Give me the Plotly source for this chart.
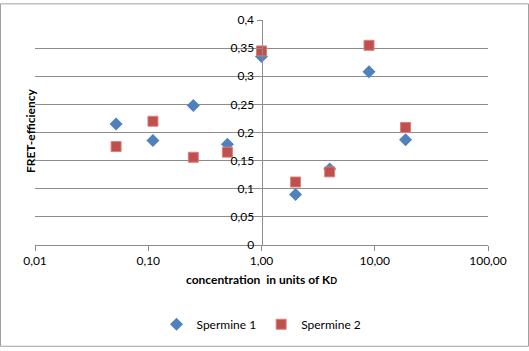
import plotly.graph_objects as go

# Data
conc_1 = [0.052, 0.11, 0.25, 0.50, 1.0, 2.0, 4.0, 8.9, 18.7]
fret_1 = [0.215, 0.186, 0.248, 0.179, 0.335, 0.090, 0.135, 0.308, 0.187]
conc_2 = [0.052, 0.11, 0.25, 0.50, 1.0, 2.0, 4.0, 8.9, 18.7]
fret_2 = [0.175, 0.220, 0.156, 0.165, 0.345, 0.112, 0.130, 0.355, 0.209]

x_tickvals = [0.01, 0.1, 1, 10, 100]
x_ticktext = ["0,01", "0,10", "1,00", "10,00", "100,00"]
y_tickvals = [0, 0.05, 0.1, 0.15, 0.2, 0.25, 0.3, 0.35, 0.4]
y_ticktext = ["0", "0,05", "0,1", "0,15", "0,2", "0,25", "0,3", "0,35", "0,4"]

BLUE = "#4F81BD"
RED = "#C0504D"
GRID = "#8C8C8C"
FONT = "Lato"

fig = go.Figure()
fig.add_trace(go.Scatter(
    x=conc_1, y=fret_1, mode="markers", name="Spermine 1",
    marker=dict(symbol="diamond", size=10, color=BLUE, line=dict(width=0)),
))
fig.add_trace(go.Scatter(
    x=conc_2, y=fret_2, mode="markers", name="Spermine 2",
    marker=dict(symbol="square", size=10, color=RED, line=dict(width=1, color="#D9807D")),
))

W, H = 529, 351
L, R, T, B = 35, 41, 17, 104
pw, ph = W - L - R, H - T - B

fig.update_layout(
    width=W, height=H,
    margin=dict(l=L, r=R, t=T, b=B),
    paper_bgcolor="white", plot_bgcolor="white",
    font=dict(family=FONT, size=12, color="#000000"),
    showlegend=True,
    legend=dict(orientation="h", x=0.5, xanchor="center", y=(ph - (328 - T)) / ph,
                yanchor="middle", font=dict(size=12), itemwidth=30, tracegroupgap=0),
    xaxis=dict(
        type="log", range=[-2, 2],
        tickvals=x_tickvals, ticktext=x_ticktext,
        showgrid=False, zeroline=False,
        showline=True, linecolor=GRID, linewidth=1,
        ticks="outside", ticklen=5, tickcolor=GRID,
        tickfont=dict(size=12),
        title=dict(text="<b>concentration  in units of K<span style='font-size:9px'>D</span></b>",
                   font=dict(size=12), standoff=8),
    ),
    yaxis=dict(
        range=[0, 0.4],
        tickvals=y_tickvals, ticktext=y_ticktext,
        showgrid=True, gridcolor=GRID, gridwidth=1,
        zeroline=False,
        showline=True, linecolor=GRID, linewidth=1,
        ticks="outside", ticklen=5, tickcolor=GRID,
        anchor="free", position=0.5,
        tickfont=dict(size=12),
    ),
    annotations=[dict(
        text="<b>FRET-efficiency</b>", textangle=-90,
        xref="paper", yref="paper",
        x=(21 - L) / pw, y=(ph - (130 - T)) / ph,
        showarrow=False, font=dict(size=12),
    )],
    shapes=[dict(
        type="rect", xref="paper", yref="paper",
        x0=(0.5 - L) / pw, x1=(W - 0.5 - L) / pw,
        y0=-(H - 0.5 - T - ph) / ph, y1=(ph + T - 0.5) / ph,
        line=dict(color="#A0A0A0", width=1), fillcolor="rgba(0,0,0,0)", layer="below",
    )],
)

fig.write_html("out.html")
